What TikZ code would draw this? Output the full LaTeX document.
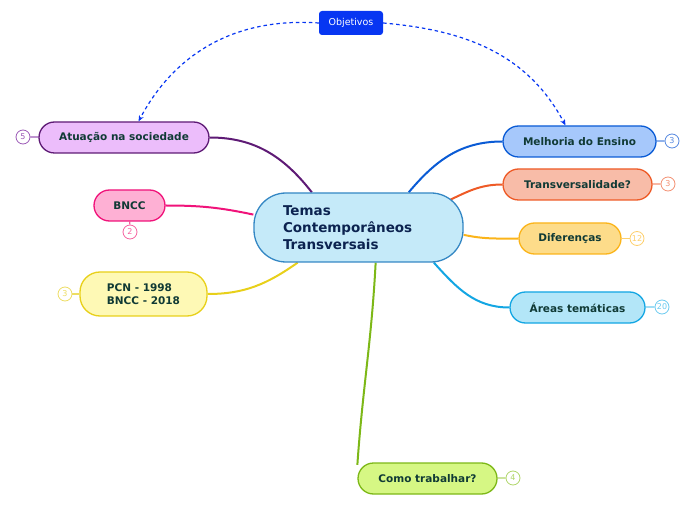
\documentclass[tikz,border=0pt]{standalone}
\usepackage{fontspec}
\setmainfont{DejaVu Sans}
\usetikzlibrary{arrows.meta,backgrounds,calc}
\definecolor{txt}{HTML}{103A35}
\definecolor{ctxt}{HTML}{0C2350}
\definecolor{objblue}{HTML}{0736F2}
\definecolor{cfill}{RGB}{197,234,249}\definecolor{cdraw}{RGB}{52,135,196}
\definecolor{purf}{RGB}{236,189,251}\definecolor{purd}{RGB}{94,26,117}
\definecolor{pinkf}{RGB}{254,176,212}\definecolor{pinkd}{RGB}{240,19,122}
\definecolor{yelf}{RGB}{254,249,181}\definecolor{yeld}{RGB}{232,208,26}
\definecolor{bluf}{RGB}{166,200,251}\definecolor{blud}{RGB}{10,91,213}
\definecolor{oraf}{RGB}{248,188,168}\definecolor{orad}{RGB}{238,90,38}
\definecolor{ambf}{RGB}{253,220,138}\definecolor{ambd}{RGB}{251,180,26}
\definecolor{cyaf}{RGB}{179,230,248}\definecolor{cyad}{RGB}{19,166,227}
\definecolor{gref}{RGB}{214,247,132}\definecolor{gred}{RGB}{125,184,23}
\definecolor{bpur}{HTML}{9B59B6}
\definecolor{bpink}{HTML}{F5629F}
\definecolor{byel}{HTML}{EDDD63}
\definecolor{bblue}{HTML}{5588E0}
\definecolor{bora}{HTML}{F39173}
\definecolor{bamb}{HTML}{FDCF6C}
\definecolor{bcya}{HTML}{6CCBF0}
\definecolor{bgre}{HTML}{B0D66A}
\tikzset{
  topic/.style={draw, line width=1.3pt, rounded corners=15.5pt, minimum height=31pt, inner sep=0pt,
    font=\fontsize{10.5}{13}\selectfont\bfseries, text=txt},
  badge/.style={circle, draw, fill=white, line width=0.8pt, minimum size=14pt, inner sep=0pt,
    font=\fontsize{8}{9}\selectfont},
  link/.style={line width=2pt},
  blink/.style={line width=1.2pt},
  dasharrow/.style={objblue, line width=1.2pt, dash pattern=on 3.5pt off 3pt, -{Stealth[length=6pt,width=5pt]}}
}
\begin{document}
\begin{tikzpicture}[x=1pt,y=1pt]
\useasboundingbox (0,0) rectangle (696,520);
% central
\node[fill=cfill, draw=cdraw, line width=1.3pt,
  rounded corners=32pt, minimum width=209pt, minimum height=69pt, inner xsep=29pt, inner ysep=0pt,
  text width=151pt, align=left, font=\fontsize{13.5}{17}\selectfont\bfseries, text=ctxt]
  (c) at (358.5,292.5) {Temas\\Contemporâneos\\Transversais};
% objetivos
\node[fill=objblue, rounded corners=3pt, minimum width=64pt, minimum height=24pt, inner sep=0pt,
  text=white, font=\fontsize{9.5}{11}\selectfont] (obj) at (351,497) {Objetivos};
% topics
\node[topic, fill=purf, draw=purd, minimum width=170pt] (atu) at (124,382.5) {Atuação na sociedade};
\node[topic, fill=pinkf, draw=pinkd, minimum width=71pt] (bncc) at (129.5,314.5) {BNCC};
\node[topic, fill=yelf, draw=yeld, minimum width=127pt, minimum height=44pt, rounded corners=20pt, align=left] (pcn) at (143.5,226) {PCN - 1998\\BNCC - 2018};
\node[topic, fill=bluf, draw=blud, minimum width=153pt] (mel) at (579.5,378.5) {Melhoria do Ensino};
\node[topic, fill=oraf, draw=orad, minimum width=149pt] (tra) at (577.5,335.5) {Transversalidade?};
\node[topic, fill=ambf, draw=ambd, minimum width=102pt] (dif) at (570,281.5) {Diferenças};
\node[topic, fill=cyaf, draw=cyad, minimum width=135pt] (are) at (577.5,212.5) {Áreas temáticas};
\node[topic, fill=gref, draw=gred, minimum width=139pt] (como) at (427.5,41.5) {Como trabalhar?};
% badges
\node[badge, draw=bpur, text=bpur] (b5) at (23,383) {5};
\node[badge, draw=bpink, text=bpink] (b2) at (130,288) {2};
\node[badge, draw=byel, text=byel] (b3y) at (65,226) {3};
\node[badge, draw=bblue, text=bblue] (b3b) at (672,379) {3};
\node[badge, draw=bora, text=bora] (b3o) at (668,336) {3};
\node[badge, draw=bamb, text=bamb] (b12) at (637,281.5) {12};
\node[badge, draw=bcya, text=bcya] (b20) at (662,213) {20};
\node[badge, draw=bgre, text=bgre] (b4) at (513,42) {4};
\begin{scope}[on background layer]
\draw[blink, bpur] (b5) -- (atu);
\draw[blink, bpink] (b2) -- (bncc);
\draw[blink, byel] (b3y) -- (pcn);
\draw[blink, bblue] (b3b) -- (mel);
\draw[blink, bora] (b3o) -- (tra);
\draw[blink, bamb] (b12) -- (dif);
\draw[blink, bcya] (b20) -- (are);
\draw[blink, bgre] (b4) -- (como);
% connectors
\draw[link, purd] (c.143) to[out=128, in=0] (atu.east);
\draw[link, pinkd] (c.173) to[out=168, in=0] (bncc.east);
\draw[link, yeld] (c.210) to[out=215, in=0] (pcn.east);
\draw[link, blud] (c.35) to[out=50, in=180] (mel.west);
\draw[link, orad] ($(c.center)+(88,26)$) to[out=25, in=180] (tra.west);
\draw[link, ambd] (c.-4) to[out=-12, in=180] (dif.west);
\draw[link, cyad] (c.-25) to[out=-48, in=180] (are.west);
\draw[link, gred] (c.-64) to[out=-93, in=86] (como.169);
\end{scope}
% dashed arrows
\draw[dasharrow] (obj.west) to[out=176, in=62] (atu.48);
\draw[dasharrow] (obj.east) to[out=-5, in=118] (mel.131);
\end{tikzpicture}
\end{document}
